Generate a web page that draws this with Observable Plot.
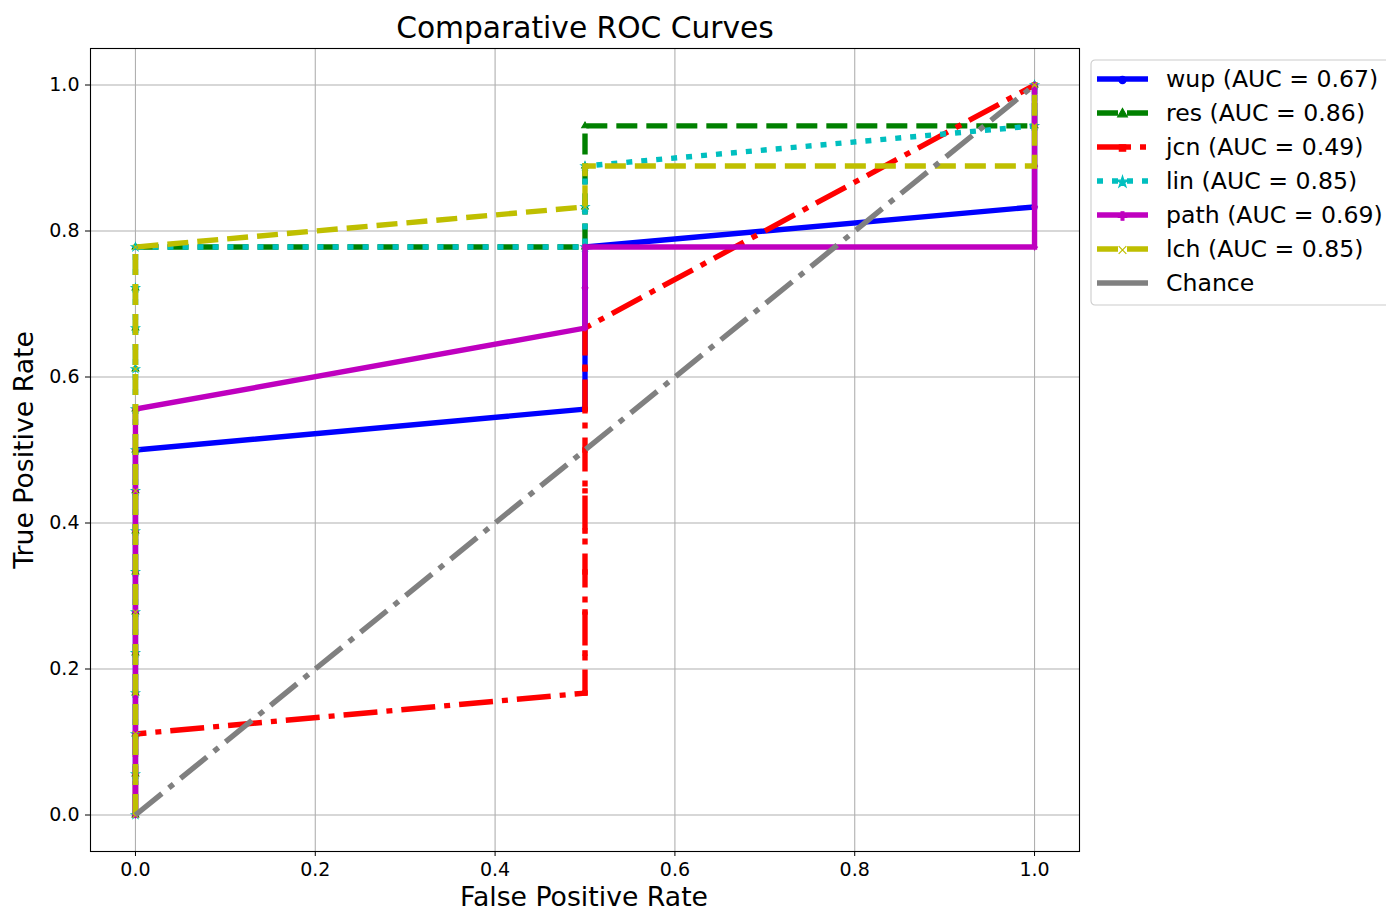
<!DOCTYPE html>
<html><head><meta charset="utf-8">
<script src="https://cdn.jsdelivr.net/npm/d3@7"></script>
<script src="https://cdn.jsdelivr.net/npm/@observablehq/plot@0.6"></script>
<style>
body{margin:0;background:#fff;}
#chart{position:relative;width:1386px;height:911px;overflow:hidden;background:#fff}
</style>
</head><body><div id="chart"></div>
<script>
// ---- data ----
const seriesNames = ["wup","res","jcn","lin","path","lch"];
const aucValues = [0.67, 0.86, 0.49, 0.85, 0.69, 0.85];
const xTicks = [0, 0.2, 0.4, 0.6, 0.8, 1.0];
const yTicks = [0, 0.2, 0.4, 0.6, 0.8, 1.0];

const wupFpr = [0,0,0,0,0,0,0,0,0,0, 0.5,0.5,0.5,0.5,0.5, 1,1,1];
const wupTpr = [0,0.056,0.111,0.167,0.222,0.278,0.333,0.389,0.444,0.5, 0.556,0.611,0.667,0.722,0.778, 0.833,0.889,1.0];

const resFpr = [0,0,0,0,0,0,0,0,0,0,0,0,0,0,0, 0.5,0.5,0.5,0.5, 1,1];
const resTpr = [0,0.056,0.111,0.167,0.222,0.278,0.333,0.389,0.444,0.5,0.556,0.611,0.667,0.722,0.778, 0.778,0.833,0.889,0.944, 0.944,1.0];

const jcnFpr = [0,0,0, 0.5,0.5,0.5,0.5,0.5,0.5,0.5,0.5,0.5,0.5, 1];
const jcnTpr = [0,0.056,0.111, 0.167,0.222,0.278,0.333,0.389,0.444,0.5,0.556,0.611,0.667, 1.0];

const linFpr = [0,0,0,0,0,0,0,0,0,0,0,0,0,0,0, 0.5,0.5,0.5, 1,1];
const linTpr = [0,0.056,0.111,0.167,0.222,0.278,0.333,0.389,0.444,0.5,0.556,0.611,0.667,0.722,0.778, 0.778,0.833,0.889, 0.944,1.0];

const pathFpr = [0,0,0,0,0,0,0,0,0,0,0, 0.5,0.5,0.5, 1,1,1,1,1];
const pathTpr = [0,0.056,0.111,0.167,0.222,0.278,0.333,0.389,0.444,0.5,0.556, 0.667,0.722,0.778, 0.778,0.833,0.889,0.944,1.0];

const lchFpr = [0,0,0,0,0,0,0,0,0,0,0,0,0,0,0, 0.5,0.5, 1,1,1];
const lchTpr = [0,0.056,0.111,0.167,0.222,0.278,0.333,0.389,0.444,0.5,0.556,0.611,0.667,0.722,0.778, 0.833,0.889, 0.889,0.944,1.0];

const chanceFpr = [0, 1];
const chanceTpr = [0, 1];

const fprs = {wup: wupFpr, res: resFpr, jcn: jcnFpr, lin: linFpr, path: pathFpr, lch: lchFpr};
const tprs = {wup: wupTpr, res: resTpr, jcn: jcnTpr, lin: linTpr, path: pathTpr, lch: lchTpr};

// ---- styles ----
const styles = {
  wup:  {color:"#0000ff", dash:null,            symbol:"circle"},
  res:  {color:"#008000", dash:"21,9",          symbol:"triangle"},
  jcn:  {color:"#ff0000", dash:"34,9,6,9",      symbol:"square"},
  lin:  {color:"#00bfbf", dash:"6,9",           symbol:"star"},
  path: {color:"#bf00bf", dash:null,            symbol:"plus"},
  lch:  {color:"#bfbf00", dash:"21,9",          symbol:"times"}
};
const chanceStyle = {color:"#808080", dash:"34,9,6,9"};
const LW = 5.4;

const tables = seriesNames.map(s => fprs[s].map((f, i) => ({x: f, y: tprs[s][i], s})));
const chanceData = chanceFpr.map((f, i) => ({x: f, y: chanceTpr[i]}));

const marks = [
  Plot.gridX(xTicks, {stroke:"#b0b0b0", strokeOpacity:1, strokeWidth:1.1}),
  Plot.gridY(yTicks, {stroke:"#b0b0b0", strokeOpacity:1, strokeWidth:1.1}),
  Plot.axisX(xTicks, {tickSize:5, tickPadding:6, fontSize:19, tickFormat:d3.format(".1f"), label:null, stroke:"#000", fill:"#000"}),
  Plot.axisY(yTicks, {tickSize:5, tickPadding:6, fontSize:19, tickFormat:d3.format(".1f"), label:null, stroke:"#000", fill:"#000"}),
];
seriesNames.forEach((s, k) => {
  const st = styles[s];
  marks.push(Plot.line(tables[k], {x:"x", y:"y", stroke:st.color, strokeWidth:LW,
    strokeDasharray: st.dash || undefined, strokeLinecap: st.dash ? "butt" : "square", strokeLinejoin:"miter", strokeMiterlimit:10}));
  marks.push(Plot.dot(tables[k], {x:"x", y:"y", symbol:()=>st.symbol, r:2.4,
    fill: (st.symbol==="plus"||st.symbol==="times") ? "none" : st.color, stroke: st.color, strokeWidth:1.2}));
});
marks.push(Plot.line(chanceData, {x:"x", y:"y", stroke:chanceStyle.color, strokeWidth:LW, strokeDasharray:chanceStyle.dash, strokeLinecap:"butt"}));
marks.push(Plot.frame({stroke:"#000", strokeWidth:1.1}));

const plot = Plot.plot({
  width: 1386, height: 911,
  marginLeft: 90, marginRight: 307, marginTop: 48, marginBottom: 60,
  x: {domain: [-0.05, 1.05]},
  y: {domain: [-0.05, 1.05]},
  style: {fontFamily: "DejaVu Sans", background: "#fff", overflow: "visible"},
  marks
});
document.getElementById("chart").appendChild(plot);

const svg = d3.select(plot);
const font = "DejaVu Sans";
svg.append("text").attr("x", 585).attr("y", 38).attr("text-anchor","middle")
  .attr("font-family", font).attr("font-size", 29.7).attr("fill","#000").text("Comparative ROC Curves");
svg.append("text").attr("x", 584).attr("y", 906).attr("text-anchor","middle")
  .attr("font-family", font).attr("font-size", 26.7).attr("fill","#000").text("False Positive Rate");
svg.append("text").attr("transform","translate(33,450) rotate(-90)").attr("text-anchor","middle")
  .attr("font-family", font).attr("font-size", 26.7).attr("fill","#000").text("True Positive Rate");

// legend
const lg = svg.append("g").attr("transform","translate(1091,60)");
lg.append("rect").attr("x",0).attr("y",0).attr("width",310).attr("height",245).attr("rx",4)
  .attr("fill","#fff").attr("fill-opacity",0.8).attr("stroke","#cccccc").attr("stroke-width",1.1);
const entries = seriesNames.map((s, i) => ({label: `${s} (AUC = ${aucValues[i].toFixed(2)})`, ...styles[s]}));
entries.push({label:"Chance", ...chanceStyle, symbol:null});
entries.forEach((e, i) => {
  const cy = 19 + i*34;
  lg.append("line").attr("x1",6).attr("x2",57).attr("y1",cy).attr("y2",cy)
    .attr("stroke", e.color).attr("stroke-width", LW)
    .attr("stroke-dasharray", e.dash ? (e.label==="Chance" ? null : e.dash) : null);
  if (e.symbol) {
    const sym = d3.symbol().type({circle:d3.symbolCircle, triangle:d3.symbolTriangle, square:d3.symbolSquare,
      star:d3.symbolStar, plus:d3.symbolCross, times:d3.symbolX}[e.symbol]).size(40);
    const hollow = e.symbol === "times";
    lg.append("path").attr("d", sym()).attr("transform", `translate(31.5,${cy + 1})`)
      .attr("fill", hollow ? "none" : e.color).attr("stroke", e.color).attr("stroke-width", 1.2);
  }
  lg.append("text").attr("x",75).attr("y",cy).attr("dy","0.35em").attr("text-anchor","start")
    .attr("font-family", font).attr("font-size", 23.6).attr("fill","#000").text(e.label);
});
</script>
</body></html>
